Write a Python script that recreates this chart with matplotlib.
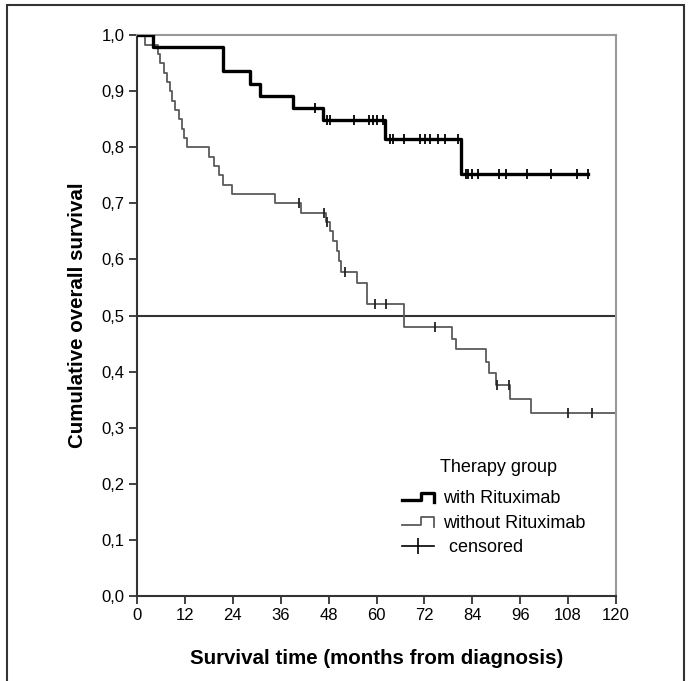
# Kaplan-Meier style plot: overall survival by therapy group

import numpy as np
import matplotlib
matplotlib.use('Agg')
import matplotlib.pyplot as plt
from matplotlib.lines import Line2D
from matplotlib.patches import Rectangle
from matplotlib.legend_handler import HandlerBase

plt.rcParams['font.family'] = ['Liberation Sans', 'DejaVu Sans']

# Step curve values (months, cumulative survival)
rit_times = [0, 3.9, 21.5, 28.2, 30.8, 39.0, 46.5, 62.2, 81.1, 113.0]
rit_surv = [1.0, 0.978, 0.935, 0.913, 0.891, 0.870, 0.848, 0.815, 0.752, 0.752]
rit_censor = [44.6, 47.7, 48.4, 54.4, 58.0, 59.1, 60.1, 61.7, 63.4, 64.2, 66.9,
              70.9, 72.2, 73.3, 75.5, 77.2, 80.3, 82.5, 83.0, 83.9, 85.5, 90.6,
              92.5, 97.7, 103.7, 110.2, 112.9]

no_times = [0, 1.9, 5.3, 5.8, 6.8, 7.4, 8.2, 8.8, 9.5, 10.5, 11.2, 11.7, 12.6,
            18.0, 19.2, 20.6, 21.5, 23.9, 34.6, 41.0, 47.4, 48.4, 49.0, 50.0,
            50.5, 51.0, 55.0, 57.6, 66.9, 79.0, 79.8, 87.5, 88.1, 90.0, 93.5,
            98.8, 120.0]
no_surv = [1.0, 0.983, 0.967, 0.950, 0.933, 0.917, 0.900, 0.883, 0.867, 0.850,
           0.833, 0.817, 0.800, 0.783, 0.767, 0.750, 0.733, 0.717, 0.700, 0.683,
           0.666, 0.650, 0.633, 0.615, 0.598, 0.578, 0.558, 0.520, 0.480, 0.459,
           0.440, 0.418, 0.398, 0.376, 0.352, 0.327, 0.327]
no_censor = [40.7, 46.9, 47.7, 52.1, 59.6, 62.4, 74.7, 90.1, 93.1, 107.9, 114.1]

x_ticks = [0, 12, 24, 36, 48, 60, 72, 84, 96, 108, 120]
y_ticks = [0.0, 0.1, 0.2, 0.3, 0.4, 0.5, 0.6, 0.7, 0.8, 0.9, 1.0]


def surv_at(times, surv, t):
    idx = np.searchsorted(times, t, side='right') - 1
    return np.array(surv)[idx]


class StepHandler(HandlerBase):
    # draws the little step icon used in SPSS legends
    def create_artists(self, legend, orig_handle, xdescent, ydescent,
                       width, height, fontsize, trans):
        x0 = -xdescent
        y0 = -ydescent
        xs = [x0, x0 + 0.6 * width, x0 + 0.6 * width, x0 + width, x0 + width]
        ys = [y0 + 0.2 * height, y0 + 0.2 * height, y0 + 0.8 * height,
              y0 + 0.8 * height, y0 + 0.05 * height]
        line = Line2D(xs, ys, color=orig_handle.get_color(),
                      lw=orig_handle.get_linewidth(), transform=trans)
        return [line]


fig = plt.figure(figsize=(6.9, 6.81), dpi=100)
ax = fig.add_axes([137 / 690, 1 - 596 / 681, 479 / 690, 561 / 681])

# outer frame of the figure
fig.patches.append(Rectangle((7 / 690, -0.02), 677 / 690, 1.02 - 5 / 681,
                             transform=fig.transFigure, fill=False,
                             edgecolor='#333333', lw=1.5))

ax.axhline(0.5, color='#333333', lw=1.5, zorder=1)

thin_color = '#5a5a5a'
h2, = ax.step(no_times, no_surv, where='post', color=thin_color, lw=1.3, zorder=2)
ax.plot(no_censor, surv_at(no_times, no_surv, no_censor), ls='none',
        marker='|', ms=7, mew=1.3, color='#222222', zorder=3)

h1, = ax.step(rit_times, rit_surv, where='post', color='black', lw=2.4, zorder=4)
ax.plot(rit_censor, surv_at(rit_times, rit_surv, rit_censor), ls='none',
        marker='|', ms=7, mew=1.3, color='black', zorder=5)

ax.set_xlim(0, 120)
ax.set_ylim(0, 1.0)
ax.set_xticks(x_ticks)
ax.set_xticklabels([str(t) for t in x_ticks], fontsize=12)
ax.set_yticks(y_ticks)
ax.set_yticklabels([('%.1f' % v).replace('.', ',') for v in y_ticks], fontsize=12)
ax.tick_params(direction='out', length=6, width=1.3, color='#333333', pad=3)

for s in ['left', 'bottom']:
    ax.spines[s].set_color('#333333')
    ax.spines[s].set_linewidth(1.5)
for s in ['top', 'right']:
    ax.spines[s].set_color('#999999')
    ax.spines[s].set_linewidth(1.5)

ax.set_xlabel('Survival time (months from diagnosis)', fontsize=14.8,
              fontweight='bold', labelpad=18)
ax.set_ylabel('Cumulative overall survival', fontsize=14.8,
              fontweight='bold', labelpad=10)

# legend title placed on its own, SPSS leaves a bigger gap under it
ax.text((499 - 137) / 479, (596 - 467) / 561, 'Therapy group', fontsize=13,
        ha='center', va='center', transform=ax.transAxes)

cens_handle = Line2D([], [], color='black', lw=1.2, marker='|', ms=11, mew=1.2)
leg = ax.legend([h1, h2, cens_handle],
                ['with Rituximab', 'without Rituximab', ' censored'],
                fontsize=13, frameon=False, loc='upper left',
                bbox_to_anchor=((402 - 137) / 479, (596 - 490) / 561),
                handler_map={h1: StepHandler(), h2: StepHandler()},
                handlelength=1.75, handletextpad=0.55, labelspacing=0.42,
                borderpad=0, borderaxespad=0)

fig.savefig('out.png', dpi=100)
